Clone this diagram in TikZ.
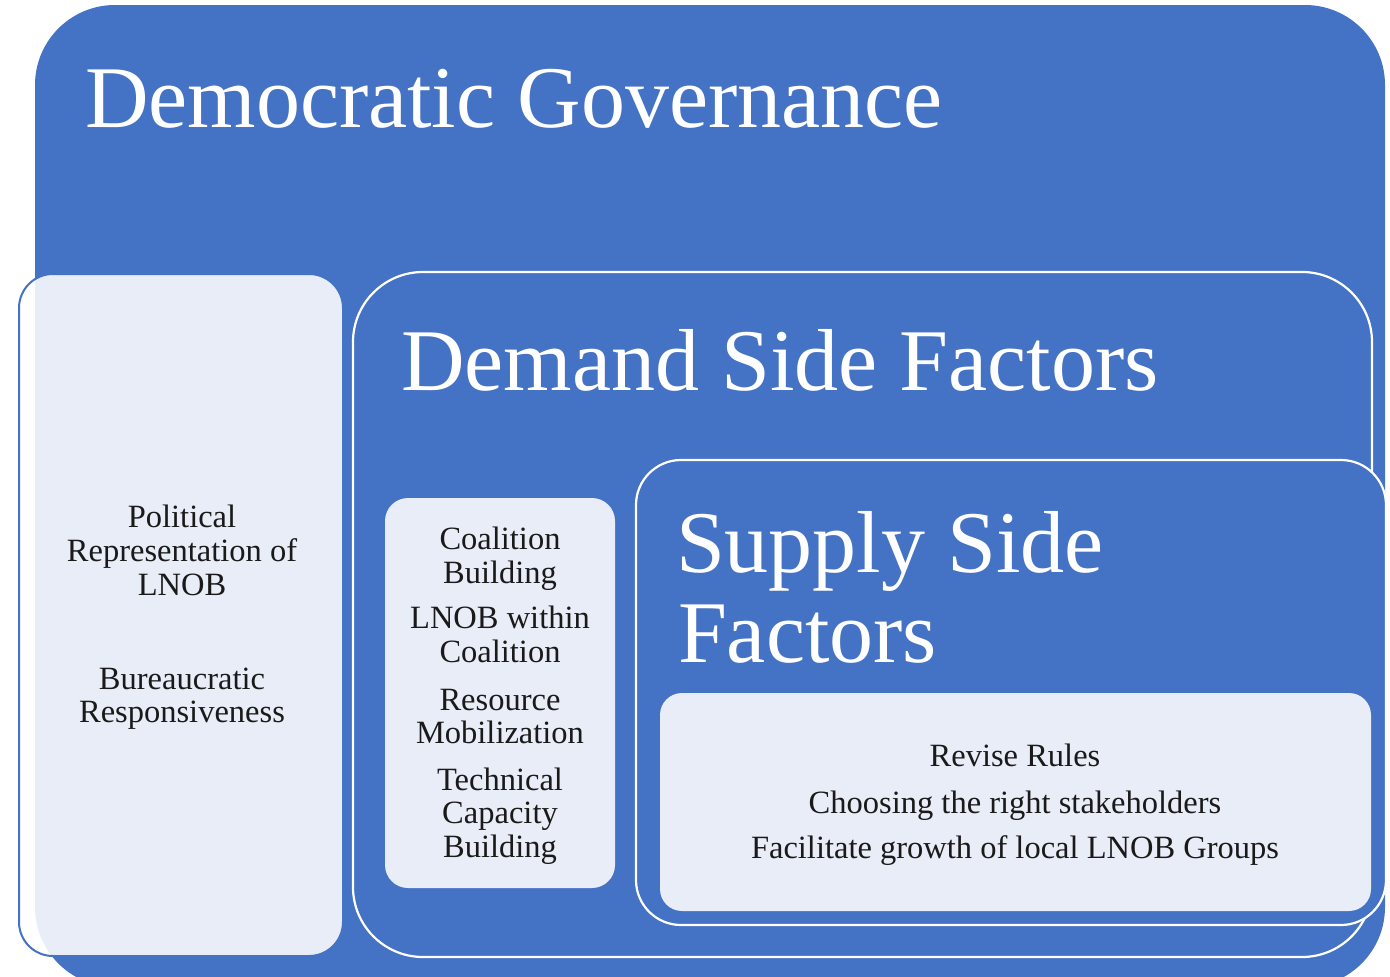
\documentclass[tikz,border=0pt]{standalone}
\usepackage{fontspec}
\setmainfont{Liberation Serif}
\definecolor{blu}{HTML}{4472C4}
\definecolor{lite}{HTML}{E9EDF7}
\definecolor{ink}{HTML}{1A1A1A}
\tikzset{
  title/.style={white, font=\fontsize{88}{90}\selectfont, anchor=base west, inner sep=0pt, outer sep=0pt},
  item/.style={ink, font=\fontsize{32.5}{34}\selectfont, anchor=base, inner sep=0pt, outer sep=0pt},
  whiteframe/.style={draw=white, line width=2.2pt, fill=blu},
  litebox/.style={fill=lite, rounded corners=23pt}
}
\begin{document}
\begin{tikzpicture}[x=1pt,y=-1pt]
\useasboundingbox (0,0) rectangle (1390,977);
\begin{scope}
\clip (0,0) rectangle (1390,977);
% outer governance box
\fill[blu, rounded corners=80pt] (35,5) rectangle (1385,987);
% left translucent box
\draw[draw=blu, line width=2pt, fill=white, fill opacity=0.88, rounded corners=34pt] (19,274) rectangle (343,956);
% demand box
\draw[whiteframe, rounded corners=70pt] (353,272) rectangle (1372,957);
\fill[litebox] (385,498) rectangle (615,888);
% supply box
\draw[whiteframe, rounded corners=45pt] (636,460) rectangle (1386,925);
\fill[litebox, rounded corners=22pt] (660,693) rectangle (1371,911);
\end{scope}

% titles
\node[title] (tgov) at (85,127) {Democratic Governance};
\node[title] (tdem) at (401,390) {Demand Side Factors};
\node[title] (tsup1) at (676,572) {Supply Side};
\node[title] (tsup2) at (678,662) {Factors};

% left box items
\node[item] (l1) at (182,527) {Political};
\node[item] (l2) at (182,561) {Representation of};
\node[item] (l3) at (182,595) {LNOB};
\node[item] (l4) at (182,689) {Bureaucratic};
\node[item] (l5) at (182,722) {Responsiveness};

% demand items
\node[item] (d1) at (500,549) {Coalition};
\node[item] (d2) at (500,583) {Building};
\node[item] (d3) at (500,628) {LNOB within};
\node[item] (d4) at (500,662) {Coalition};
\node[item] (d5) at (500,710) {Resource};
\node[item] (d6) at (500,743) {Mobilization};
\node[item] (d7) at (500,790) {Technical};
\node[item] (d8) at (500,823) {Capacity};
\node[item] (d9) at (500,857) {Building};

% supply items
\node[item] (s1) at (1015,766) {Revise Rules};
\node[item] (s2) at (1015,813) {Choosing the right stakeholders};
\node[item] (s3) at (1015,858) {Facilitate growth of local LNOB Groups};
\end{tikzpicture}
\end{document}
